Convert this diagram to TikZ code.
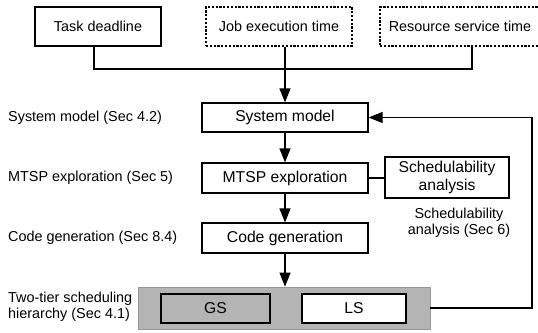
\documentclass[tikz,border=0pt]{standalone}
\usepackage{fontspec}
\setmainfont{Liberation Sans}
\usetikzlibrary{arrows.meta}
\definecolor{boxgray}{RGB}{180,180,180}
\definecolor{edgegray}{RGB}{150,150,150}
\begin{document}
\begin{tikzpicture}[x=1pt,y=-1pt,
  every node/.style={font=\fontsize{14.4}{17}\selectfont, inner sep=0pt},
  big/.style={font=\fontsize{15.7}{18.5}\selectfont},
  blk/.style={draw, line width=1.2pt, rectangle, align=center},
  dblk/.style={blk, dashed, dash pattern=on 2.2pt off 1.6pt},
  lbl/.style={anchor=west, align=left},
  conn/.style={line width=1.2pt},
  arr/.style={conn, -{Triangle[length=14pt,width=11pt]}}]
\useasboundingbox (0,0) rectangle (538,332);
% inputs
\node[blk, minimum width=126pt, minimum height=39pt] (td) at (98,26.5) {Task deadline};
\node[dblk, minimum width=146pt, minimum height=39pt] (jet) at (279,26.5) {Job execution time};
\node[dblk, minimum width=160pt, minimum height=39pt] (rst) at (460,26.5) {Resource service time};
% chain
\node[blk, big, minimum width=166pt, minimum height=29pt] (sm) at (285,117.5) {System model};
\node[blk, big, minimum width=166pt, minimum height=30pt] (mtsp) at (285,178) {MTSP exploration};
\node[blk, big, minimum width=124pt, minimum height=41pt] (sa) at (447,177.5) {Schedulability\\analysis};
\node[blk, big, minimum width=166pt, minimum height=30pt] (cg) at (285,238) {Code generation};
% two-tier
\node[rectangle, fill=boxgray, draw=edgegray, line width=0.8pt, minimum width=292pt, minimum height=42pt] (gray) at (284,308) {};
\node[blk, big, fill=boxgray, minimum width=109pt, minimum height=29pt] (gs) at (215.5,308.5) {GS};
\node[blk, big, fill=white, minimum width=104pt, minimum height=29pt] (ls) at (354,308.5) {LS};
% labels
\node[lbl] (l1) at (8,118) {System model (Sec 4.2)};
\node[lbl] (l2) at (8,178) {MTSP exploration (Sec 5)};
\node[lbl] (l3) at (8,238) {Code generation (Sec 8.4)};
\node[lbl, font=\fontsize{14.4}{16}\selectfont] (l4) at (8,307) {Two-tier scheduling\\hierarchy (Sec 4.1)};
\node[align=center, font=\fontsize{14.4}{16.5}\selectfont] (l5) at (459,223) {Schedulability\\analysis (Sec 6)};
% connectors
\coordinate (j) at (285,69);
\draw[conn] ([xshift=-4pt]td.south) |- (j) -| ([xshift=12pt]rst.south);
\draw[arr] (sm.north |- jet.south) -- (sm.north);
\draw[arr] (sm) -- (mtsp);
\draw[arr] (mtsp) -- (cg);
\draw[arr] (cg.south) -- (cg.south |- gray.north);
\draw[conn] (mtsp.east) -- (sa.west |- mtsp.east);
\coordinate (fb) at (532,117.5);
\draw[arr] (gray.east) -| (fb) -- (sm.east);
\end{tikzpicture}
\end{document}
